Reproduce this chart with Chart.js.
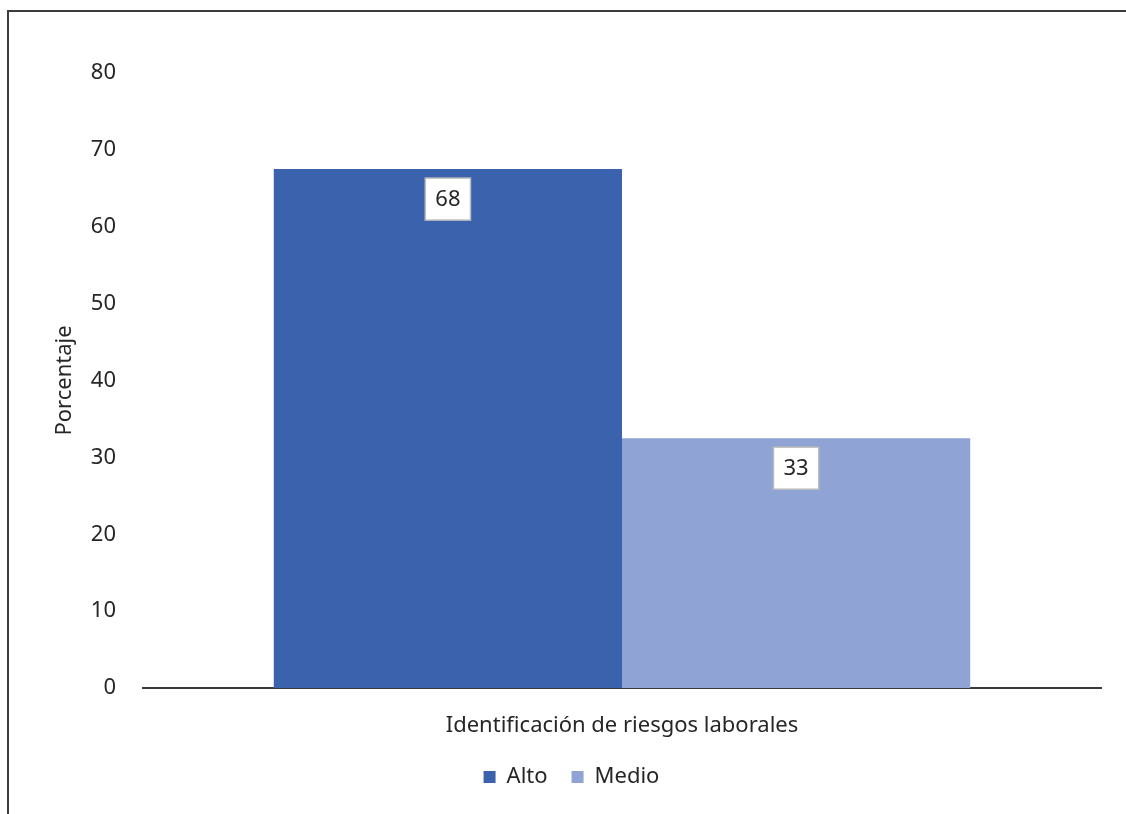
<!DOCTYPE html>
<html>
<head>
<meta charset="utf-8">
<script src="https://cdn.jsdelivr.net/npm/chart.js@4.4.0/dist/chart.umd.min.js"></script>
<style>
  html, body { margin: 0; padding: 0; background: #fff; }
  #wrap { position: relative; width: 1126px; height: 814px; }
  #frame {
    position: absolute; left: 7px; top: 10px; right: 0; bottom: 0;
    border-left: 2px solid #3c3c3c; border-top: 2px solid #3c3c3c;
    pointer-events: none;
  }
  canvas { position: absolute; left: 0; top: 0; }
</style>
</head>
<body>
<div id="wrap">
  <canvas id="riesgosChart" width="1126" height="814"></canvas>
  <div id="frame"></div>
</div>
<script>
// datos
const categories = ['Identificación de riesgos laborales'];
const seriesNames = ['Alto', 'Medio'];
const altoValues = [67.5];
const medioValues = [32.5];
const yTicks = [0, 10, 20, 30, 40, 50, 60, 70, 80];

const FONT = '"Noto Sans", "Open Sans", sans-serif';
const FSIZE = 22;
const TEXT = '#262626';

// etiquetas de datos en caja blanca dentro de la barra
const boxLabels = {
  id: 'boxLabels',
  afterDatasetsDraw(chart) {
    const ctx = chart.ctx;
    ctx.save();
    ctx.font = FSIZE + 'px ' + FONT;
    ctx.textAlign = 'center';
    ctx.textBaseline = 'middle';
    chart.data.datasets.forEach((ds, i) => {
      const meta = chart.getDatasetMeta(i);
      meta.data.forEach((bar, j) => {
        const txt = String(Math.round(ds.data[j]));
        const w = ctx.measureText(txt).width + 20;
        const h = 42;
        const x = bar.x - w / 2;
        const y = bar.y + 9;
        ctx.fillStyle = '#ffffff';
        ctx.fillRect(x, y, w, h);
        ctx.strokeStyle = '#bdbdbd';
        ctx.lineWidth = 1.5;
        ctx.strokeRect(x, y, w, h);
        ctx.fillStyle = TEXT;
        ctx.fillText(txt, bar.x, y + h / 2 + 1);
      });
    });
    ctx.restore();
  }
};

const ctx = document.getElementById('riesgosChart').getContext('2d');
new Chart(ctx, {
  type: 'bar',
  data: {
    labels: categories,
    datasets: [
      { label: seriesNames[0], data: altoValues, backgroundColor: '#3b63ad', borderWidth: 0 },
      { label: seriesNames[1], data: medioValues, backgroundColor: '#8fa3d4', borderWidth: 0 }
    ]
  },
  options: {
    responsive: false,
    animation: false,
    devicePixelRatio: 1,
    layout: { padding: { top: 73, right: 25, left: 42, bottom: 16 } },
    categoryPercentage: 0.727,
    barPercentage: 1.0,
    plugins: {
      tooltip: { enabled: false },
      legend: {
        position: 'bottom',
        labels: {
          font: { family: FONT, size: FSIZE },
          color: TEXT,
          boxWidth: 12,
          boxHeight: 12,
          padding: 24
        }
      }
    },
    scales: {
      x: {
        grid: { display: false, drawTicks: false },
        border: { display: true, color: '#3a3a3a', width: 2 },
        ticks: { font: { family: FONT, size: FSIZE }, color: TEXT, padding: 25 },
        afterFit: (scale) => { scale.height = 54; }
      },
      y: {
        min: 0,
        max: 80,
        afterBuildTicks: (scale) => { scale.ticks = yTicks.map(v => ({ value: v })); },
        grid: { display: false, drawTicks: false },
        border: { display: false },
        ticks: { font: { family: FONT, size: FSIZE }, color: TEXT, padding: 27 },
        title: {
          display: true,
          text: 'Porcentaje',
          font: { family: FONT, size: FSIZE },
          color: TEXT,
          padding: { top: 10, bottom: 0 }
        },
        afterFit: (scale) => { scale.width = 101; }
      }
    }
  },
  plugins: [boxLabels]
});
</script>
</body>
</html>
